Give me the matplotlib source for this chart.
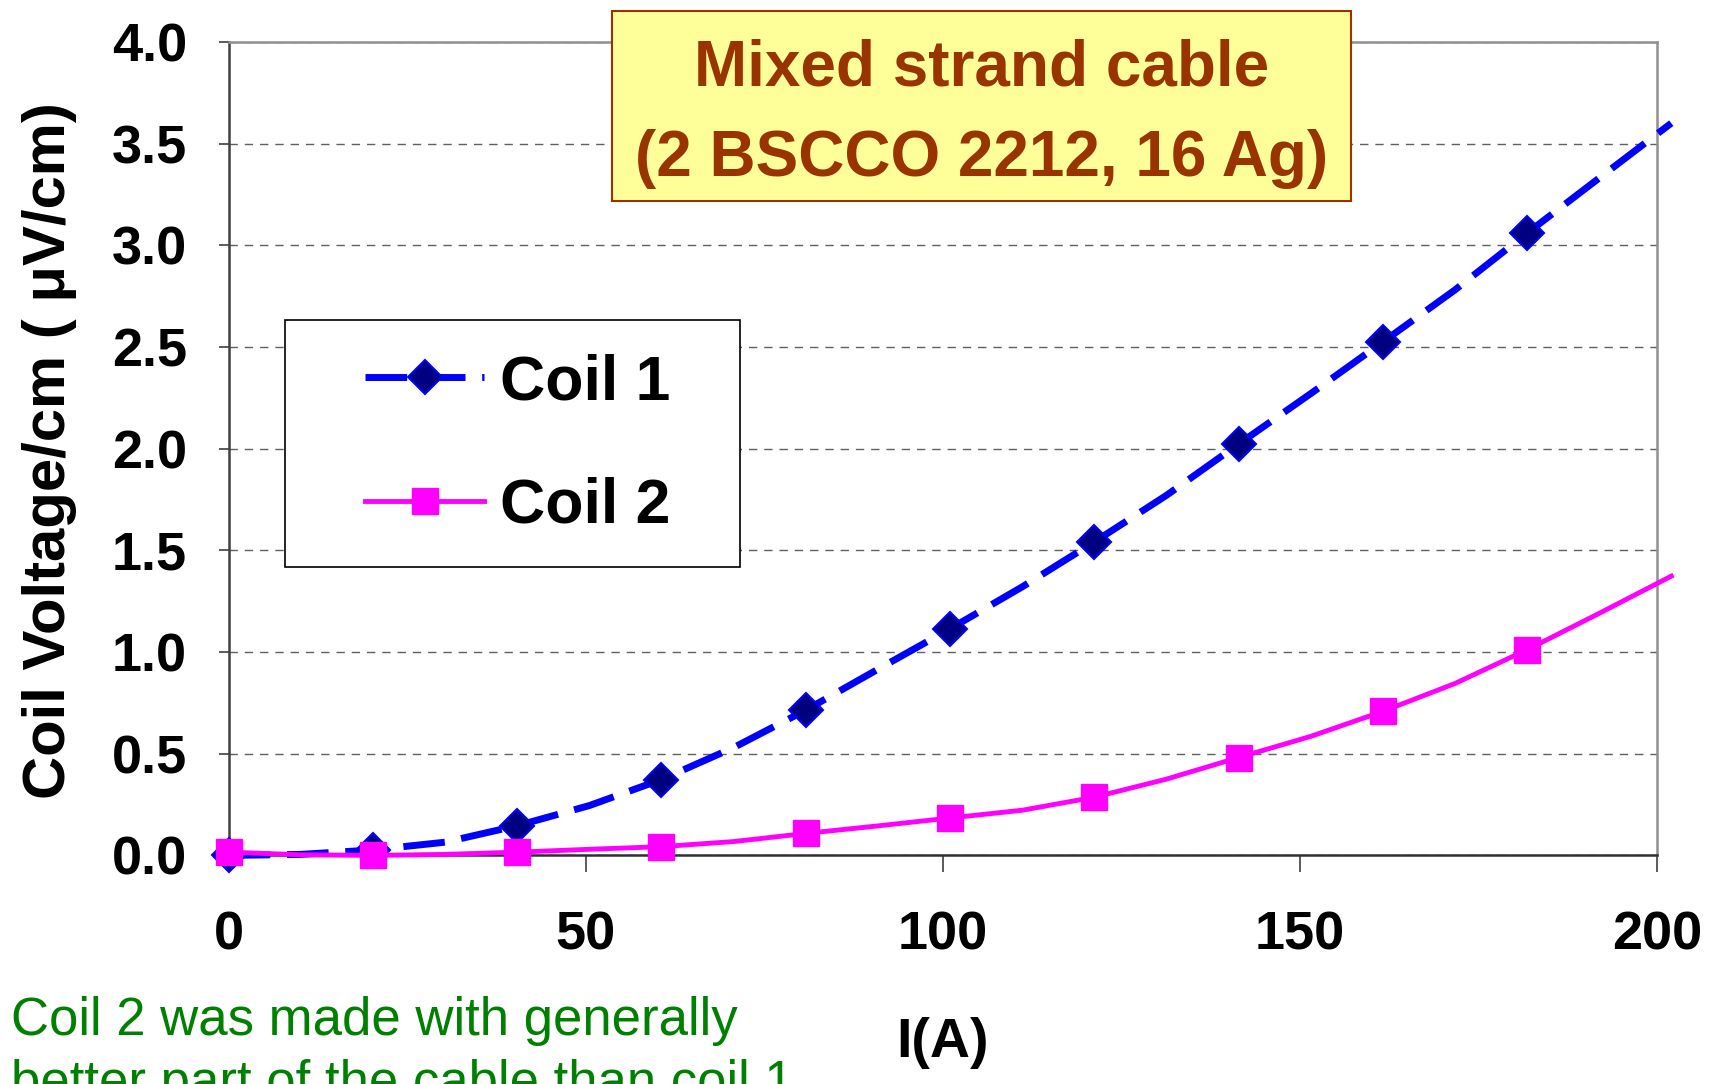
import matplotlib.pyplot as plt
from matplotlib.patches import Rectangle

plt.rcParams['font.family'] = ['Liberation Sans', 'DejaVu Sans']

# current (A), points every ~10 A, markers every other point
current = [0, 10.1, 20.2, 30.3, 40.4, 50.5, 60.6, 70.7, 80.8, 90.9, 101,
           111.1, 121.2, 131.3, 141.4, 151.5, 161.6, 171.7, 181.8, 191.9, 202]
coil1 = [0.0, 0.005, 0.027, 0.065, 0.146, 0.245, 0.373, 0.53, 0.714, 0.915, 1.114,
         1.32, 1.541, 1.77, 2.022, 2.27, 2.524, 2.78, 3.059, 3.33, 3.6]
coil2 = [0.016, 0.003, 0.0, 0.005, 0.016, 0.03, 0.043, 0.068, 0.108, 0.145, 0.184,
         0.222, 0.286, 0.375, 0.481, 0.585, 0.708, 0.845, 1.011, 1.19, 1.373]
xticks = [0, 50, 100, 150, 200]
yticks = [0.0, 0.5, 1.0, 1.5, 2.0, 2.5, 3.0, 3.5, 4.0]

W, H = 1724, 1084
fig = plt.figure(figsize=(W / 100, H / 100), dpi=100)
ax = fig.add_axes([228.7 / W, 1 - 855.4 / H, (1657 - 228.7) / W, (855.4 - 41.8) / H])

marks = slice(0, 19, 2)
ax.plot(current, coil1, color='#0000FF', lw=5, dashes=(6, 2.4),
        marker='D', ms=17, mfc='#000080', mec='#0000FF', mew=1.5,
        markevery=marks, clip_on=False, zorder=3, label='Coil 1')
ax.plot(current, coil2, color='#FF00FF', lw=3.5,
        marker='s', ms=19, mfc='#FF00FF', mec='#FF00FF',
        markevery=marks, clip_on=False, zorder=4, label='Coil 2')

ax.set_xlim(0, 200)
ax.set_ylim(0, 4.0)
ax.set_xticks(xticks)
ax.set_yticks(yticks)
ax.set_yticklabels(['%.1f' % v for v in yticks])
ax.tick_params(axis='x', direction='out', length=12, width=1.2, color='#404040',
               pad=28, labelsize=39)
ax.tick_params(axis='y', direction='out', length=7, width=1.2, color='#404040',
               pad=23, labelsize=39)
for lab in ax.get_xticklabels() + ax.get_yticklabels():
    lab.set_fontweight('bold')

ax.yaxis.grid(True, linestyle=(0, (6, 5)), color='#606060', lw=1.0)
ax.set_axisbelow(True)
ax.spines['left'].set_color('#404040')
ax.spines['bottom'].set_color('#303030')
ax.spines['top'].set_color('#909090')
ax.spines['right'].set_color('#909090')
for s in ax.spines.values():
    s.set_linewidth(1.8)

ax.set_xlabel('I(A)', fontsize=40, fontweight='bold', va='center')
ax.xaxis.set_label_coords(0.5, -0.231)
ax.set_ylabel('Coil Voltage/cm ( \u03bcV/cm)', fontsize=43, fontweight='bold', va='center')
ax.yaxis.set_label_coords(-0.1257, 0.497)

# legend frame drawn as a patch of the axes, legend itself frameless on top
ax.add_patch(Rectangle((284.8 / W, 1 - 567 / H), 455.2 / W, 247 / H,
                       transform=fig.transFigure, facecolor='white',
                       edgecolor='black', lw=1.2, zorder=5, clip_on=False))
leg = ax.legend(loc='center left', bbox_to_anchor=(334 / W, 1 - 444.5 / H),
                bbox_transform=fig.transFigure, frameon=False,
                borderpad=0, handlelength=1.9, handletextpad=0.26,
                labelspacing=1.03, numpoints=1, prop={'weight': 'bold', 'size': 45})
leg.set_zorder(6)

# title box
fig.patches.append(Rectangle((612 / W, 1 - 201 / H), 739 / W, 190 / H,
                             transform=fig.transFigure, facecolor='#FFFF99',
                             edgecolor='#993300', lw=1.5, zorder=5))
fig.text(982 / W, 1 - 68 / H, 'Mixed strand cable', ha='center', va='center',
         fontsize=46, fontweight='bold', color='#993300', zorder=6)
fig.text(982 / W, 1 - 159 / H, '(2 BSCCO 2212, 16 Ag)', ha='center', va='center',
         fontsize=46, fontweight='bold', color='#993300', zorder=6)

# note at the bottom (second line runs off the figure, as in the original)
fig.text(11 / W, 1 - 1035 / H, 'Coil 2 was made with generally', ha='left',
         va='baseline', fontsize=38, color='#008000')
fig.text(11 / W, 1 - 1098 / H, 'better part of the cable than coil 1', ha='left',
         va='baseline', fontsize=38, color='#008000')

fig.savefig('out.png', dpi=100)
